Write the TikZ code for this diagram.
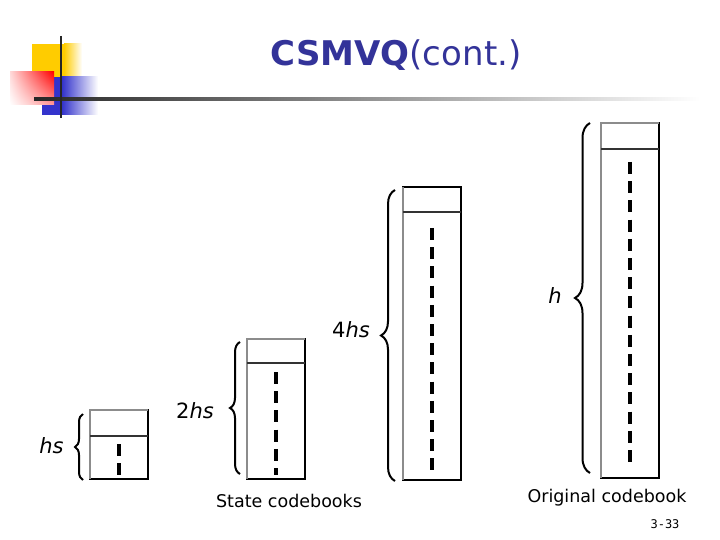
\documentclass[tikz,border=0pt]{standalone}
\usepackage{fontspec}
\setmainfont{DejaVu Sans}
\setmonofont{DejaVu Sans Mono}
\usetikzlibrary{decorations.pathreplacing, positioning, shadings}

\definecolor{titleblue}{RGB}{51,51,153}
\definecolor{deckyellow}{RGB}{255,204,0}
\definecolor{deckblue}{RGB}{51,51,204}
\definecolor{deckred}{RGB}{255,0,0}

\begin{document}
\begin{tikzpicture}[x=1pt, y=-1pt,
		cbbox/.style={rectangle, draw=black, line width=1.3pt, minimum width=58pt, inner sep=0pt, outer sep=0pt, anchor=north west},
		greyedge/.style={draw=black!45, line width=1.3pt},
		headline/.style={draw=black!80, line width=1.3pt},
		dots/.style={line width=4pt, dash pattern=on 12pt off 7.2pt},
		brace/.style={decorate, decoration={brace, amplitude=#1}, line width=2pt},
		varlabel/.style={font=\fontsize{21}{24}\selectfont, anchor=base},
		caption/.style={font=\fontsize{17.5}{20}\selectfont, anchor=base}
		]
		\useasboundingbox (0,0) rectangle (720,540);
		
		% Title decoration
		\fill[deckyellow] (32,44) rectangle (64,77);
		\shade[left color=deckyellow, right color=white] (64,44) rectangle (82,77);
		\fill[deckblue] (42,77) rectangle (62,115);
		\shade[left color=deckblue, right color=white] (62,77) rectangle (98,115);
		\shade[upper right=deckred, upper left=deckred!15, lower right=deckred!40, lower left=white] (10,72) rectangle (54,105);
		\shade[left color=black!85, right color=white] (34,97.5) rectangle (700,100.5);
		\draw[line width=2.5pt, black!85] (61,36) -- (61,118);
		
		% Title
		\node[font=\fontsize{34}{40}\selectfont, text=titleblue, anchor=base] (title) at (396,66) {\textbf{CSMVQ}(cont.)};
		
		% Codebooks
		\node[cbbox, minimum height=69pt] (cb1) at (90,410) {};
		\node[cbbox, minimum height=140pt] (cb2) at (247,339) {};
		\node[cbbox, minimum height=293pt] (cb3) at (403,187) {};
		\node[cbbox, minimum height=355pt] (cb4) at (601,123) {};
		
		\draw[greyedge] (cb1.south west) -- (cb1.north west) -- (cb1.north east);
		\draw[greyedge] (cb2.south west) -- (cb2.north west) -- (cb2.north east);
		\draw[greyedge] (cb3.south west) -- (cb3.north west);
		\draw[greyedge] (cb4.south west) -- (cb4.north west) -- (cb4.north east);
		
		\draw[headline] ([yshift=-26pt]cb1.north west) -- ([yshift=-26pt]cb1.north east);
		\draw[headline] ([yshift=-24pt]cb2.north west) -- ([yshift=-24pt]cb2.north east);
		\draw[headline] ([yshift=-25pt]cb3.north west) -- ([yshift=-25pt]cb3.north east);
		\draw[headline] ([yshift=-26pt]cb4.north west) -- ([yshift=-26pt]cb4.north east);
		
		\draw[dots] ([yshift=-34pt]cb1.north) -- ([yshift=4pt]cb1.south);
		\draw[dots] ([yshift=-33pt]cb2.north) -- ([yshift=4pt]cb2.south);
		\draw[dots] ([yshift=-41pt]cb3.north) -- ([yshift=10pt]cb3.south);
		\draw[dots] ([yshift=-39pt]cb4.north) -- ([yshift=16pt]cb4.south);
		
		% Braces
		\coordinate (br1s) at (83,480);
		\coordinate (br1n) at (83,414);
		\coordinate (br2s) at (240,474);
		\coordinate (br2n) at (240,342);
		\coordinate (br3s) at (395,481);
		\coordinate (br3n) at (395,190);
		\coordinate (br4s) at (590,473);
		\coordinate (br4n) at (590,123);
		\draw[brace=8pt] (br1s) -- (br1n);
		\draw[brace=10pt] (br2s) -- (br2n);
		\draw[brace=14pt] (br3s) -- (br3n);
		\draw[brace=15pt] (br4s) -- (br4n);
		
		% Labels
		\node[varlabel] (lblhs) at (51.5,453) {\textit{hs}};
		\node[varlabel] (lbltwohs) at (195,418) {2\textit{hs}};
		\node[varlabel] (lblfourhs) at (351,337) {4\textit{hs}};
		\node[varlabel] (lblh) at (555,303) {\textit{h}};
		
		\node[caption] (state) at (289,507) {State codebooks};
		\node[caption] (orig) at (607,502) {Original codebook};
		\node[font=\ttfamily\fontsize{12}{14}\selectfont, anchor=base] (page) at (665,528) {3-33};
		
	\end{tikzpicture}
\end{document}
